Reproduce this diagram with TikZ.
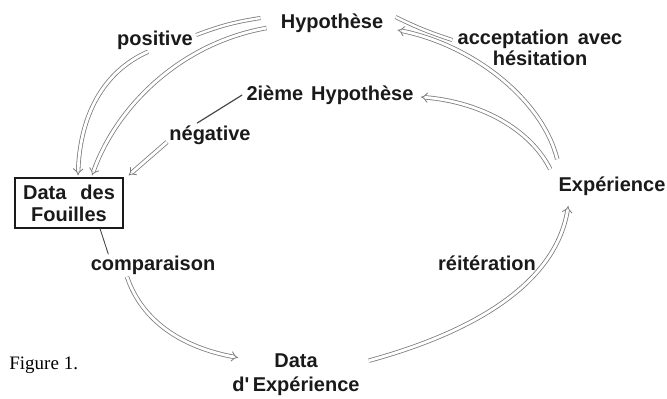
\documentclass[tikz,border=0pt]{standalone}
\usepackage{fontspec}
\setmainfont{Liberation Serif}
\newfontfamily\labelfont{Liberation Sans}
\usetikzlibrary{calc,arrows.meta}
\definecolor{pencil}{HTML}{7c7c7c}
\definecolor{ink}{HTML}{1a1a1a}
\tikzset{
  lbl/.style={font=\labelfont\bfseries\fontsize{10}{11}\selectfont, text=ink, inner sep=1pt},
  flow/.style={draw=pencil, line width=0.4pt, double=white, double distance=1.4pt, -{Implies}},
  tie/.style={draw=pencil, line width=0.4pt, double=white, double distance=1.2pt},
  stroke/.style={draw=ink!80, line width=0.6pt},
}
\begin{document}
\begin{tikzpicture}[x=0.5pt, y=-0.5pt]
  \useasboundingbox (0,0) rectangle (667,398);
  % stations of the cycle
  \node[lbl] (hyp) at (332,23) {Hypothèse};
  \node[lbl] (hyp2) at (330,95) {2ième\hspace{0.4em}Hypothèse};
  \node[lbl] (exp) at (612,186) {Expérience};
  \node[lbl, draw=ink, line width=0.6pt, align=center, minimum width=54pt, minimum height=25pt, inner sep=2pt] (fouilles) at (69,203) {Data\hspace{0.7em}des\\Fouilles};
  \node[lbl, align=center, font=\labelfont\bfseries\fontsize{10}{12}\selectfont] (dexp) at (296,375) {Data\\d'\,Expérience};
  % labels on the arrows
  \node[lbl] (pos) at (155,40) {positive};
  \node[lbl] (neg) at (210,135) {négative};
  \node[lbl, align=center, font=\labelfont\bfseries\fontsize{10}{9}\selectfont] (acc) at (540,48) {acceptation\hspace{0.45em}avec\\hésitation};
  \node[lbl] (comp) at (153,265) {comparaison};
  \node[lbl] (reit) at (487,263) {réitération};
  \node[anchor=base west, font=\fontsize{9.5}{12}\selectfont, inner sep=0pt] (fig) at (9,369) {Figure 1.};

  % Hypothese -> Data des Fouilles
  \draw[tie] ($(hyp.west)+(-18,-5)$) to[bend right=6] ($(pos.east)+(1,-5)$);
  \draw[flow] ($(pos.south)+(-7,0)$) .. controls +(-45,20) and +(2,-60) .. ($(fouilles.north)+(9,-2)$);
  \draw[flow] ($(hyp.west)+(-12,5)$) .. controls +(-85,15) and +(25,-70) .. ($(fouilles.north)+(23,-2)$);
  % 2ieme Hypothese -> negative -> Data des Fouilles
  \draw[stroke] ($(hyp2.west)+(-2,0)$) -- ($(neg.north)+(-13,0)$);
  \draw[flow] ($(neg.west)+(0,7)$) -- ($(fouilles.north east)+(5,-2)$);
  % Experience -> Hypothese, 2ieme Hypothese
  \draw[tie] ($(acc.west)+(-3,-8)$) to[bend left=4] ($(hyp.east)+(10,-6)$);
  \draw[flow] ($(exp.north west)+(1,-15)$) .. controls +(-15,-60) and +(75,15) .. ($(hyp.east)+(12,7)$);
  \draw[flow] ($(exp.north west)+(-6,-5)$) .. controls +(-20,-40) and +(60,5) .. ($(hyp2.east)+(5,2)$);
  % Data des Fouilles -> Data d'Experience
  \draw[stroke, line width=0.45pt] ($(fouilles.south)+(31,0)$) -- ($(comp.north west)+(20,1)$);
  \draw[flow] ($(comp.south)+(-26,0)$) .. controls +(15,45) and +(-55,-10) .. ($(dexp.north west)+(8,6)$);
  % Data d'Experience -> Experience
  \draw[flow] ($(dexp.north east)+(7,9)$) .. controls +(110,-30) and +(-12,75) .. ($(exp.south west)+(12,8)$);
\end{tikzpicture}
\end{document}
